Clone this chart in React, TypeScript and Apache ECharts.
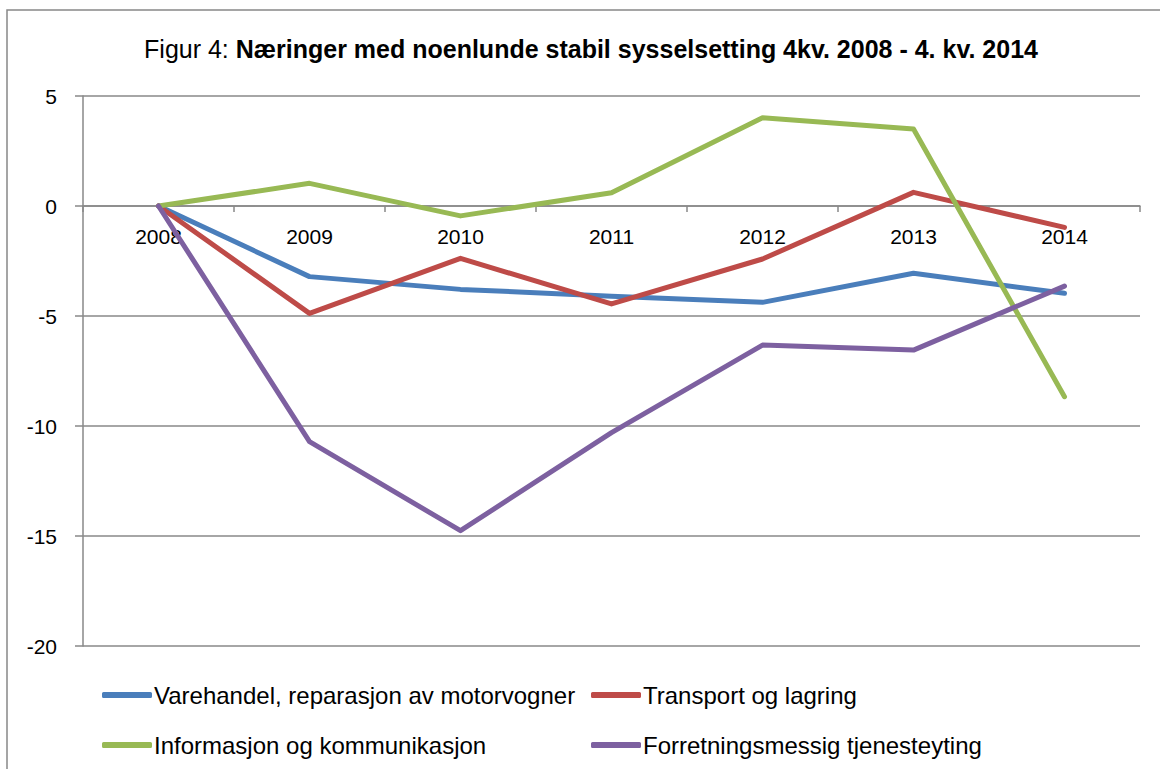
import React, { useEffect, useRef } from "react";
import * as echarts from "echarts";

const years = ["2008", "2009", "2010", "2011", "2012", "2013", "2014"];
const varehandel = [0, -3.21, -3.79, -4.1, -4.38, -3.06, -3.97];
const transport = [0, -4.88, -2.38, -4.45, -2.41, 0.62, -0.97];
const informasjon = [0, 1.03, -0.45, 0.6, 4.01, 3.5, -8.67];
const forretning = [0, -10.71, -14.76, -10.3, -6.32, -6.55, -3.64];
const seriesNames = [
  "Varehandel, reparasjon av motorvogner",
  "Transport og lagring",
  "Informasjon og kommunikasjon",
  "Forretningsmessig tjenesteyting",
];
const seriesData = [varehandel, transport, informasjon, forretning];
const colors = ["#4A7EBB", "#BE4B48", "#98B954", "#7D60A0"];
const yMin = -20;
const yMax = 5;
const yStep = 5;
const titlePrefix = "Figur 4: ";
const titleMain = "Næringer med noenlunde stabil sysselsetting 4kv. 2008 - 4. kv. 2014";

const FONT = "'Liberation Sans', Arial, sans-serif";
const GRAY = "#888888";

export default function App() {
  const ref = useRef<HTMLDivElement>(null);
  useEffect(() => {
    if (!ref.current) return;
    const chart = echarts.init(ref.current, undefined, { renderer: "svg" });
    const legendCommon = {
      orient: "vertical" as const,
      top: 678,
      itemGap: 26,
      itemWidth: 50,
      itemHeight: 6,
      icon: "roundRect",
      textStyle: { fontFamily: FONT, fontSize: 24, color: "#000", padding: [0, 0, 0, -3] },
    };
    chart.setOption({
      animation: false,
      backgroundColor: "#fff",
      color: colors,
      title: {
        text: `{a|${titlePrefix}}{b|${titleMain}}`,
        left: 586,
        top: 31,
        textAlign: "center",
        textStyle: {
          fontWeight: "normal",
          rich: {
            a: { fontFamily: FONT, fontSize: 25, fontWeight: "normal", color: "#000" },
            b: { fontFamily: FONT, fontSize: 25, fontWeight: "bold", color: "#000" },
          },
        },
      },
      graphic: [
        {
          type: "rect",
          shape: { x: 7, y: 10, width: 1300, height: 900 },
          style: { fill: "none", stroke: GRAY, lineWidth: 1.5 },
          z: -1,
          silent: true,
        },
      ],
      legend: [
        { ...legendCommon, left: 97, data: [seriesNames[0], seriesNames[2]] },
        { ...legendCommon, left: 586, data: [seriesNames[1], seriesNames[3]] },
      ],
      grid: { left: 83, right: 20, top: 96, bottom: 123, containLabel: false },
      xAxis: {
        type: "category",
        data: years,
        boundaryGap: true,
        position: "bottom",
        offset: -440,
        axisLine: { onZero: false, lineStyle: { color: GRAY, width: 1.5 } },
        axisTick: { show: true, length: 6, inside: false, lineStyle: { color: GRAY, width: 1.5 } },
        axisLabel: { fontFamily: FONT, fontSize: 21, color: "#000", margin: 20 },
        splitLine: { show: false },
      },
      yAxis: {
        type: "value",
        min: yMin,
        max: yMax,
        interval: yStep,
        axisLine: { show: true, lineStyle: { color: GRAY, width: 1.5 } },
        axisTick: { show: true, length: 8, lineStyle: { color: GRAY, width: 1.5 } },
        axisLabel: { fontFamily: FONT, fontSize: 21, color: "#000", margin: 26 },
        splitLine: { show: true, lineStyle: { color: GRAY, width: 1.5 } },
      },
      series: seriesData.map((d, i) => ({
        name: seriesNames[i],
        type: "line",
        data: d,
        symbol: "none",
        lineStyle: { width: 5, color: colors[i], cap: "round", join: "round" },
        itemStyle: { color: colors[i] },
      })),
    });
    return () => chart.dispose();
  }, []);
  return (
    <div
      ref={ref}
      style={{ position: "absolute", left: 0, top: 0, width: 1160, height: 769 }}
    />
  );
}
